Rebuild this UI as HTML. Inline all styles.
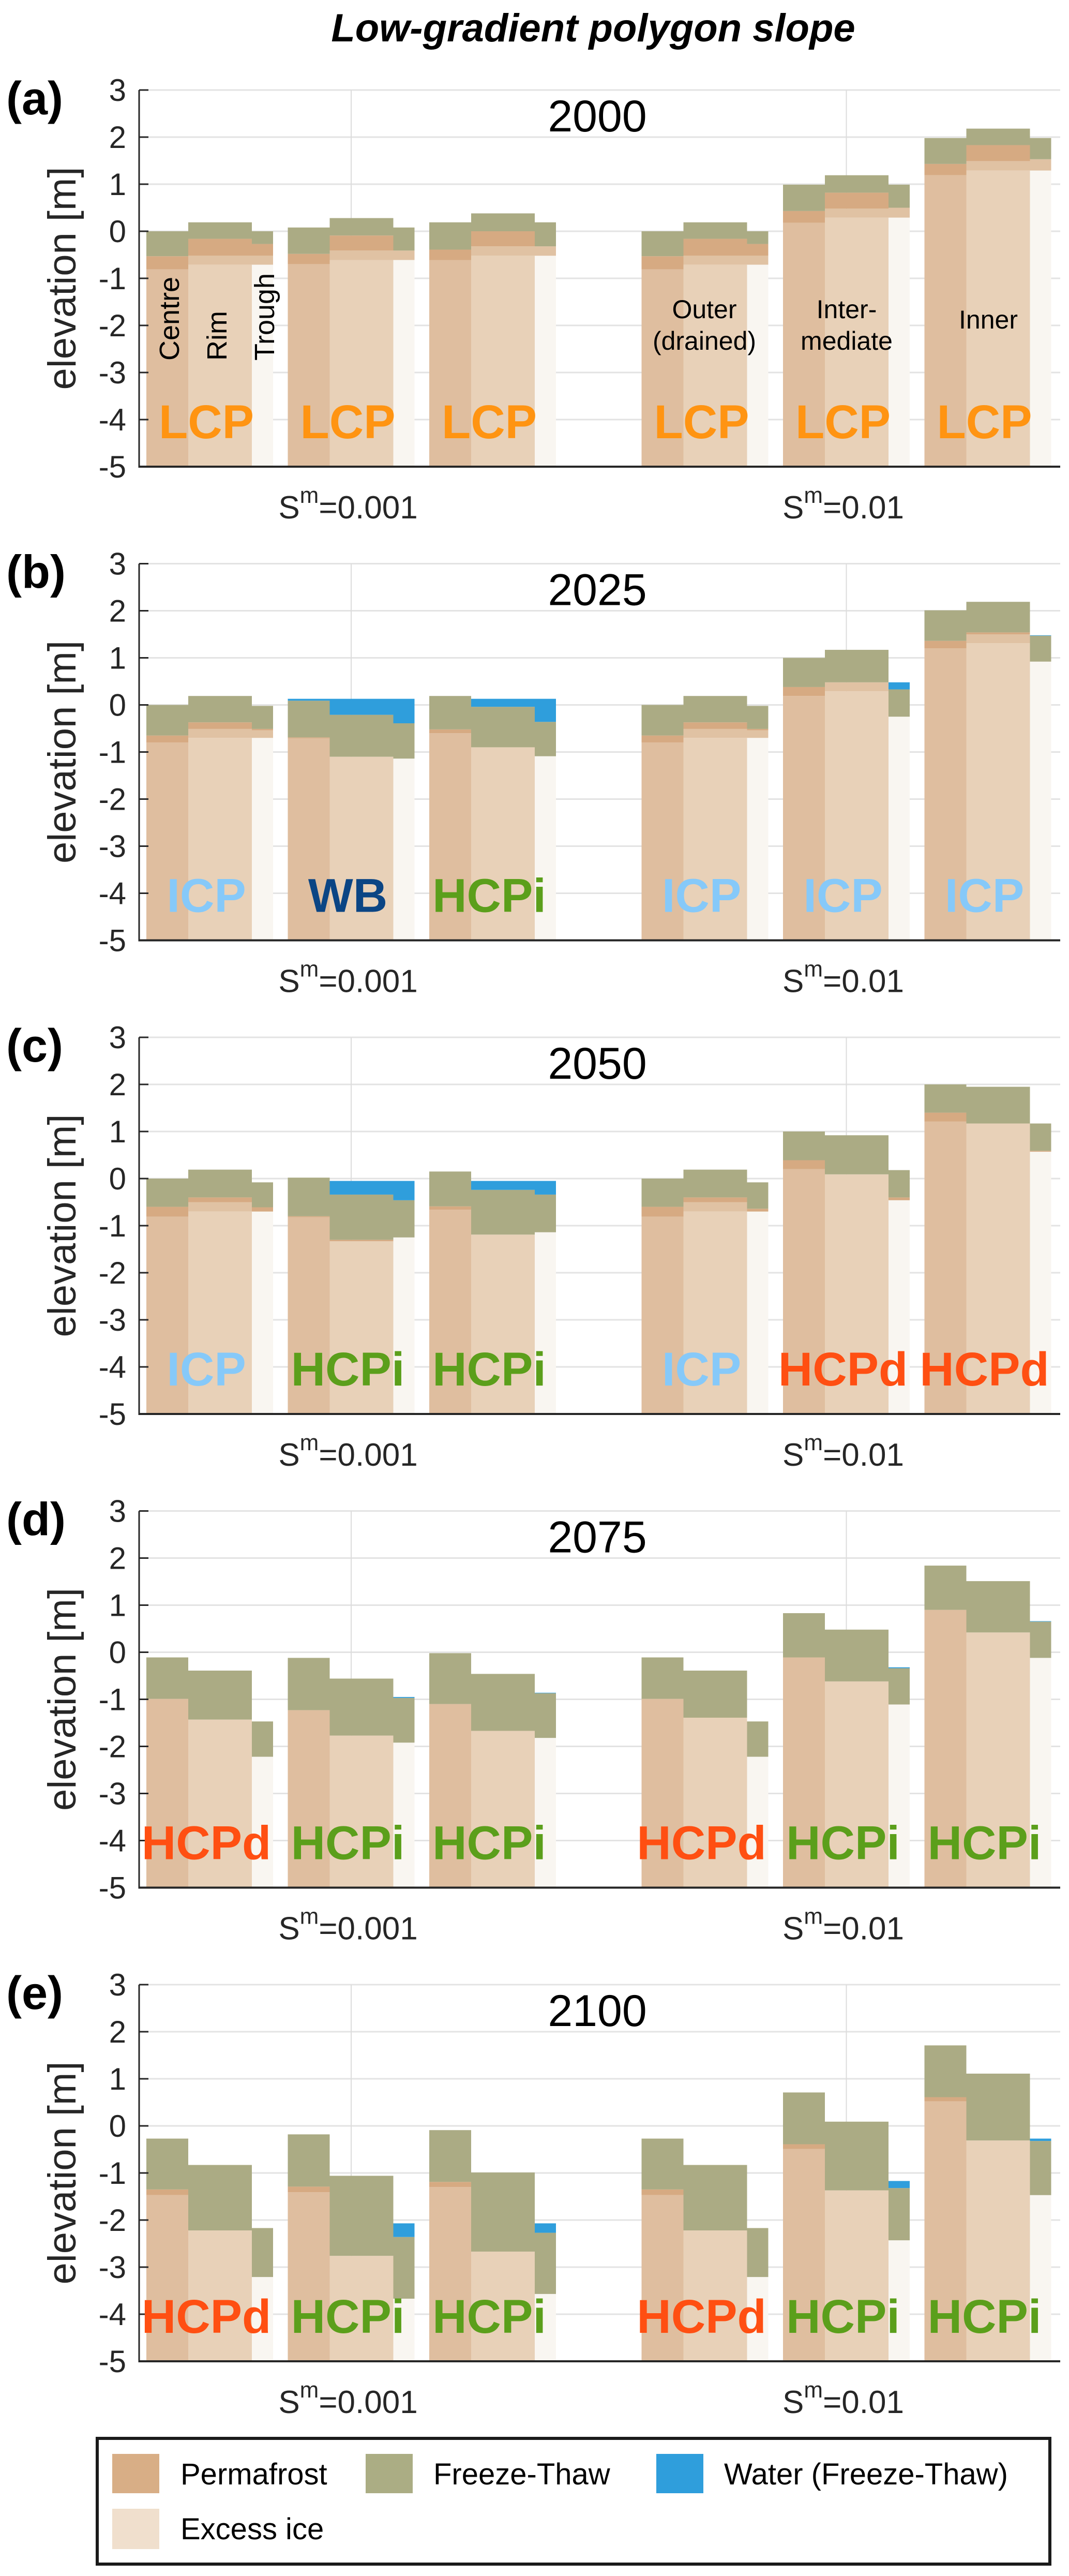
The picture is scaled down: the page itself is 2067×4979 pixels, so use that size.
<!DOCTYPE html>
<html><head><meta charset="utf-8"><style>
html,body{margin:0;padding:0;background:#fff;}
svg{display:block;}
text{font-family:"Liberation Sans","DejaVu Sans",sans-serif;}
</style></head><body>
<svg id="fig" width="2067" height="4979" viewBox="0 0 2067 4979" xmlns="http://www.w3.org/2000/svg">
<rect x="0" y="0" width="2067" height="4979" fill="#fff"/>
<text x="1147" y="80" font-size="76" font-weight="bold" font-style="italic" text-anchor="middle">Low-gradient polygon slope</text>
<g id="panels"></g>
<g>
<rect x="188" y="4713" width="1842" height="243" fill="#fff" stroke="#1a1a1a" stroke-width="6"/>
<rect x="217" y="4743" width="91" height="76" fill="#d8ae86"/>
<text x="349" y="4802" font-size="58">Permafrost</text>
<rect x="707" y="4743" width="91" height="76" fill="#abad84"/>
<text x="838" y="4802" font-size="58">Freeze-Thaw</text>
<rect x="1269" y="4743" width="91" height="76" fill="#2f9edc"/>
<text x="1400" y="4802" font-size="58">Water (Freeze-Thaw)</text>
<rect x="217" y="4849" width="91" height="78" fill="#f0dfcd"/>
<text x="349" y="4908" font-size="58">Excess ice</text>
</g>
</svg>
<script>
// ---- data (elevation in m). 18 columns per panel: 6 polygons x (centre, rim, trough). null = same as layer below.
const years = ["2000","2025","2050","2075","2100"];
const panelLetters = ["(a)","(b)","(c)","(d)","(e)"];
const yTicks = [3,2,1,0,-1,-2,-3,-4,-5];
const slopeLabels = ["0.001","0.01"];

const iceA  = [-0.81,-0.71,-0.71, -0.70,-0.61,-0.61, -0.61,-0.52,-0.52, -0.81,-0.71,-0.71, 0.18,0.29,0.29, 1.19,1.29,1.29];
const bandA = [null,-0.52,-0.52, null,-0.41,-0.41, null,-0.32,-0.32, null,-0.52,-0.52, null,0.48,0.50, null,1.49,1.53];
const pfA   = [-0.53,-0.16,-0.27, -0.48,-0.09,null, -0.39,0.00,null, -0.53,-0.16,-0.27, 0.43,0.82,null, 1.43,1.83,null];
const ftA   = [0.00,0.19,0.00, 0.08,0.28,0.08, 0.19,0.38,0.19, 0.00,0.19,0.00, 0.99,1.19,0.99, 1.98,2.18,1.98];
const wA    = [null,null,null, null,null,null, null,null,null, null,null,null, null,null,null, null,null,null];

const iceB  = [-0.80,-0.70,-0.70, -0.71,-1.10,-1.14, -0.60,-0.90,-1.09, -0.80,-0.70,-0.70, 0.19,0.29,-0.25, 1.20,1.31,0.92];
const bandB = [null,-0.51,-0.54, null,null,null, null,null,null, null,-0.51,-0.54, null,0.48,null, null,1.50,null];
const pfB   = [-0.65,-0.37,-0.51, -0.69,null,null, -0.52,null,null, -0.65,-0.37,-0.51, 0.38,null,null, 1.36,1.54,null];
const ftB   = [0.00,0.19,-0.02, 0.09,-0.21,-0.39, 0.19,-0.04,-0.36, 0.00,0.19,-0.02, 1.00,1.17,0.33, 2.01,2.19,1.47];
const wB    = [null,null,null, 0.13,0.13,0.13, null,0.13,0.13, null,null,null, null,null,0.48, null,null,1.48];

const iceC  = [-0.81,-0.70,-0.70, -0.82,-1.33,-1.25, -0.66,-1.19,-1.14, -0.81,-0.70,-0.70, 0.20,0.09,-0.46, 1.21,1.17,0.57];
const bandC = [null,-0.50,null, null,null,null, null,null,null, null,-0.50,null, null,null,null, null,null,null];
const pfC   = [-0.60,-0.40,-0.61, -0.80,-1.30,null, -0.59,null,null, -0.60,-0.40,-0.64, 0.39,null,-0.40, 1.40,null,0.59];
const ftC   = [0.00,0.19,-0.08, 0.02,-0.34,-0.46, 0.15,-0.24,-0.34, 0.00,0.19,-0.08, 1.00,0.92,0.18, 2.00,1.95,1.17];
const wC    = [null,null,null, null,-0.05,-0.05, null,-0.05,-0.05, null,null,null, null,null,null, null,null,null];

const iceD  = [-0.99,-1.43,-2.22, -1.23,-1.77,-1.92, -1.10,-1.67,-1.82, -0.99,-1.39,-2.22, -0.11,-0.62,-1.11, 0.90,0.42,-0.12];
const bandD = [null,null,null, null,null,null, null,null,null, null,null,null, null,null,null, null,null,null];
const pfD   = [null,null,null, null,null,null, null,null,null, null,null,null, null,null,null, null,null,null];
const ftD   = [-0.11,-0.39,-1.47, -0.12,-0.56,-0.97, -0.02,-0.46,-0.87, -0.11,-0.39,-1.47, 0.83,0.48,-0.34, 1.84,1.51,0.65];
const wD    = [null,null,null, null,null,-0.95, null,null,-0.86, null,null,null, null,null,-0.32, null,null,0.66];

const iceE  = [-1.47,-2.22,-3.21, -1.41,-2.76,-3.67, -1.30,-2.67,-3.57, -1.47,-2.22,-3.21, -0.49,-1.37,-2.43, 0.52,-0.31,-1.47];
const bandE = [null,null,null, null,null,null, null,null,null, null,null,null, null,null,null, null,null,null];
const pfE   = [-1.35,null,null, -1.29,null,null, -1.19,null,null, -1.35,null,null, -0.39,null,null, 0.61,null,null];
const ftE   = [-0.27,-0.83,-2.17, -0.18,-1.06,-2.36, -0.09,-0.99,-2.27, -0.27,-0.83,-2.17, 0.71,0.09,-1.32, 1.71,1.11,-0.32];
const wE    = [null,null,null, null,null,-2.07, null,null,-2.07, null,null,null, null,null,-1.17, null,null,-0.27];

const regimeA = ["LCP","LCP","LCP","LCP","LCP","LCP"];
const regimeB = ["ICP","WB","HCPi","ICP","ICP","ICP"];
const regimeC = ["ICP","HCPi","HCPi","ICP","HCPd","HCPd"];
const regimeD = ["HCPd","HCPi","HCPi","HCPd","HCPi","HCPi"];
const regimeE = ["HCPd","HCPi","HCPi","HCPd","HCPi","HCPi"];

const panelData = [
 [iceA,bandA,pfA,ftA,wA,regimeA],
 [iceB,bandB,pfB,ftB,wB,regimeB],
 [iceC,bandC,pfC,ftC,wC,regimeC],
 [iceD,bandD,pfD,ftD,wD,regimeD],
 [iceE,bandE,pfE,ftE,wE,regimeE]
];

// ---- layout / styles
const NS = "http://www.w3.org/2000/svg";
const regimeColor = {LCP:"#ff9412",ICP:"#86c9f9",WB:"#0b4584",HCPi:"#5b9f1b",HCPd:"#ff4f12"};
const baseColor = ["#dfbe9f","#e8d1b8","#f9f6f1"];
const colWidth = [81,123,41];
const colOffset = [0,81,204];
const AX_L = 269, AX_R = 2050, YMIN = -5, YMAX = 3, PLOT_H = 728;
const PANEL_TOP0 = 174, PANEL_STEP = 915.5;
function xGroup(g){ return 283 + g*273.5 + (g>=3 ? 137 : 0); }
function mk(tag, attrs, parent){ const e=document.createElementNS(NS,tag); for(const k in attrs) e.setAttribute(k,attrs[k]); parent.appendChild(e); return e; }

const root = document.getElementById("panels");
panelData.forEach((pd, p) => {
  const top = PANEL_TOP0 + p*PANEL_STEP;
  const y = v => top + (YMAX - v) * PLOT_H / (YMAX - YMIN);
  const bottom = y(YMIN);
  const g = mk("g", {}, root);
  
  

  yTicks.forEach(t => {
    const l = mk("line", {x1:AX_L, x2:AX_R, y1:y(t), y2:y(t), stroke:"#e3e3e3", "stroke-width":3}, g);
    
    
  });
  [0,1].forEach(s => {
    const cx = (xGroup(s*3) + xGroup(s*3+2) + 245) / 2;
    const l = mk("line", {x1:cx, x2:cx, y1:top, y2:bottom, stroke:"#dcdcdc", "stroke-width":2}, g);
    
    
  });

  const [ice, band, pf, ft, w, regime] = pd;
  for (let i = 0; i < 18; i++) {
    const grp = Math.floor(i/3), k = i % 3;
    const x = xGroup(grp) + colOffset[k], wd = colWidth[k];
    const iceT = ice[i];
    const bandT = band[i] == null ? iceT : band[i];
    const pfT = pf[i] == null ? bandT : pf[i];
    const ftT = ft[i] == null ? pfT : ft[i];
    const wT = w[i] == null ? ftT : w[i];
    const segs = [
      [YMIN, iceT, baseColor[k], 'excess-ice'],
      [iceT, bandT, "#e0c2a3", 'permafrost-lower'],
      [bandT, pfT, "#d6aa82", 'permafrost'],
      [pfT, ftT, "#abab84", 'freeze-thaw'],
      [ftT, wT, "#2f9edc", 'water']
    ];
    segs.forEach(s => {
      if (s[1] - s[0] <= 0.001) return;
      const r = mk("rect", {x:x, y:y(s[1]), width:wd, height:y(s[0]) - y(s[1]), fill:s[2]}, g);
      
      
    });
  }

  const ax = mk("line", {x1:AX_L, x2:AX_L, y1:top, y2:bottom + 2, stroke:"#262626", "stroke-width":3}, g);
  
  
  const bx = mk("line", {x1:AX_L, x2:AX_R, y1:bottom, y2:bottom, stroke:"#262626", "stroke-width":4}, g);
  
  
  yTicks.forEach(t => {
    const tk = mk("line", {x1:AX_L, x2:AX_L + 18, y1:y(t), y2:y(t), stroke:"#262626", "stroke-width":3}, g);
    
    
    const tl = mk("text", {x:244, y:y(t) + 21, "font-size":60, "text-anchor":"end", fill:"#262626"}, g);
    tl.textContent = String(t);
    
    
  });
  const yl = mk("text", {x:0, y:0, "font-size":76, "text-anchor":"middle", fill:"#262626", "font-family":"DejaVu Sans, sans-serif", transform:`translate(146,${(top+bottom)/2}) rotate(-90)`}, g);
  yl.textContent = "elevation [m]";
  
  

  const pl = mk("text", {x:12, y:top + 47, "font-size":90, "font-weight":"bold", fill:"#000"}, g);
  pl.textContent = panelLetters[p];
  
  

  const yr = mk("text", {x:1155, y:top + 80, "font-size":86, "text-anchor":"middle", fill:"#000"}, g);
  yr.textContent = years[p];
  
  

  [0,1].forEach(s => {
    const cx = (xGroup(s*3) + xGroup(s*3+2) + 245) / 2 - 6;
    const t = mk("text", {x:cx, y:bottom + 100, "font-size":62, "text-anchor":"middle", fill:"#262626", "font-family":"DejaVu Sans, sans-serif"}, g);
    const t1 = mk("tspan", {}, t); t1.textContent = "S";
    const t2 = mk("tspan", {dy:-30, "font-size":44}, t); t2.textContent = "m";
    const t3 = mk("tspan", {dy:30}, t); t3.textContent = "=" + slopeLabels[s];
    
    
  });

  regime.forEach((r, gi) => {
    const t = mk("text", {x:xGroup(gi) + 116, y:bottom - 55, "font-size":92, "font-weight":"bold", "text-anchor":"middle", fill:regimeColor[r]}, g);
    t.textContent = r;
    
    
  });

  if (p === 0) {
    const rot = [["Centre",327],["Rim",419],["Trough",511]];
    rot.forEach(o => {
      const t = mk("text", {x:0, y:0, "font-size":54, fill:"#000", transform:`translate(${o[1]+19},697) rotate(-90)`}, g);
      t.textContent = o[0];
      
      
    });
    const lab = [["Outer",1362,615],["(drained)",1362,676],["Inter-",1637,615],["mediate",1637,676],["Inner",1911,635]];
    lab.forEach(o => {
      const t = mk("text", {x:o[1], y:o[2], "font-size":50, "text-anchor":"middle", fill:"#000"}, g);
      t.textContent = o[0];
      
      
    });
  }
});
</script>
</body></html>
